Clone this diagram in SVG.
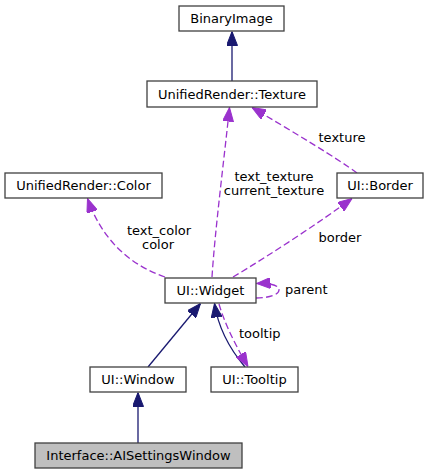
<svg xmlns="http://www.w3.org/2000/svg" width="429" height="475" viewBox="0 0 429 475">
<style>
.node rect{fill:#ffffff;stroke:#404040;stroke-width:1.3}
.node.hl rect{fill:#bfbfbf}
text{font-family:"DejaVu Sans","Liberation Sans",sans-serif;font-size:13px;fill:#000000}
.node text{text-anchor:middle}
.lbl{text-anchor:middle}
.inh{fill:none;stroke:#191970;stroke-width:1.3}
.use{fill:none;stroke:#9a32cd;stroke-width:1.3;stroke-dasharray:6.7,3.3}
</style>
<defs>
<marker id="ab" markerUnits="userSpaceOnUse" markerWidth="14" markerHeight="11" viewBox="0 0 14 11" refX="14" refY="5.5" orient="auto">
<path d="M0,0 L14,5.5 L0,11 z" fill="#191970" stroke="#191970" stroke-width="1"/>
</marker>
<marker id="ap" markerUnits="userSpaceOnUse" markerWidth="14" markerHeight="11" viewBox="0 0 14 11" refX="14" refY="5.5" orient="auto">
<path d="M0,0 L14,5.5 L0,11 z" fill="#9a32cd" stroke="#9a32cd" stroke-width="1"/>
</marker>
</defs>
<g id="edges">
<path class="inh" d="M232,81 L232,31.5" marker-end="url(#ab)"/>
<path class="use" d="M212,277 C215,230 224,160 229.5,107.5" marker-end="url(#ap)"/>
<text class="lbl" x="274" y="181">text_texture</text>
<text class="lbl" x="274" y="195">current_texture</text>
<path class="use" d="M357,173 C340,160 290,130 252,107.5" marker-end="url(#ap)"/>
<text class="lbl" x="342" y="142">texture</text>
<path class="use" d="M165,277 C130,265 102,240 87.5,198.5" marker-end="url(#ap)"/>
<text class="lbl" x="159" y="235">text_color</text>
<text class="lbl" x="158" y="249">color</text>
<path class="use" d="M233,277 C270,255 320,222 352,198.5" marker-end="url(#ap)"/>
<text class="lbl" x="340" y="242">border</text>
<path class="use" d="M256,298 C268,298 279,295 279,290 C279,285 270,283 256.5,283.5" marker-end="url(#ap)"/>
<text x="285" y="294">parent</text>
<path class="inh" d="M148,367 L200.5,303.5" marker-end="url(#ab)"/>
<path class="inh" d="M245,367 C234,354 219,333 214.5,303.5" marker-end="url(#ab)"/>
<path class="use" d="M219,304 C225,325 237,348 248,366.5" marker-end="url(#ap)"/>
<text x="239" y="338">tooltip</text>
<path class="inh" d="M138,443 L138,392.5" marker-end="url(#ab)"/>
</g>
<g id="BinaryImage" class="node"><rect x="179" y="6" width="105" height="25"/><text x="231.5" y="23">BinaryImage</text></g>
<g id="Texture" class="node"><rect x="147" y="81" width="170" height="26"/><text x="232" y="98.5">UnifiedRender::Texture</text></g>
<g id="Color" class="node"><rect x="5" y="173" width="157" height="25"/><text x="83.5" y="190">UnifiedRender::Color</text></g>
<g id="Border" class="node"><rect x="337" y="173" width="86" height="25"/><text x="380" y="190">UI::Border</text></g>
<g id="Widget" class="node"><rect x="165" y="278" width="91" height="25"/><text x="210.5" y="295">UI::Widget</text></g>
<g id="Window" class="node"><rect x="90" y="367" width="96" height="25"/><text x="138" y="384">UI::Window</text></g>
<g id="Tooltip" class="node"><rect x="211" y="367" width="87" height="25"/><text x="254.5" y="384">UI::Tooltip</text></g>
<g id="AISettingsWindow" class="node hl"><rect x="35" y="443" width="207" height="25"/><text x="138.5" y="460">Interface::AISettingsWindow</text></g>
</svg>
